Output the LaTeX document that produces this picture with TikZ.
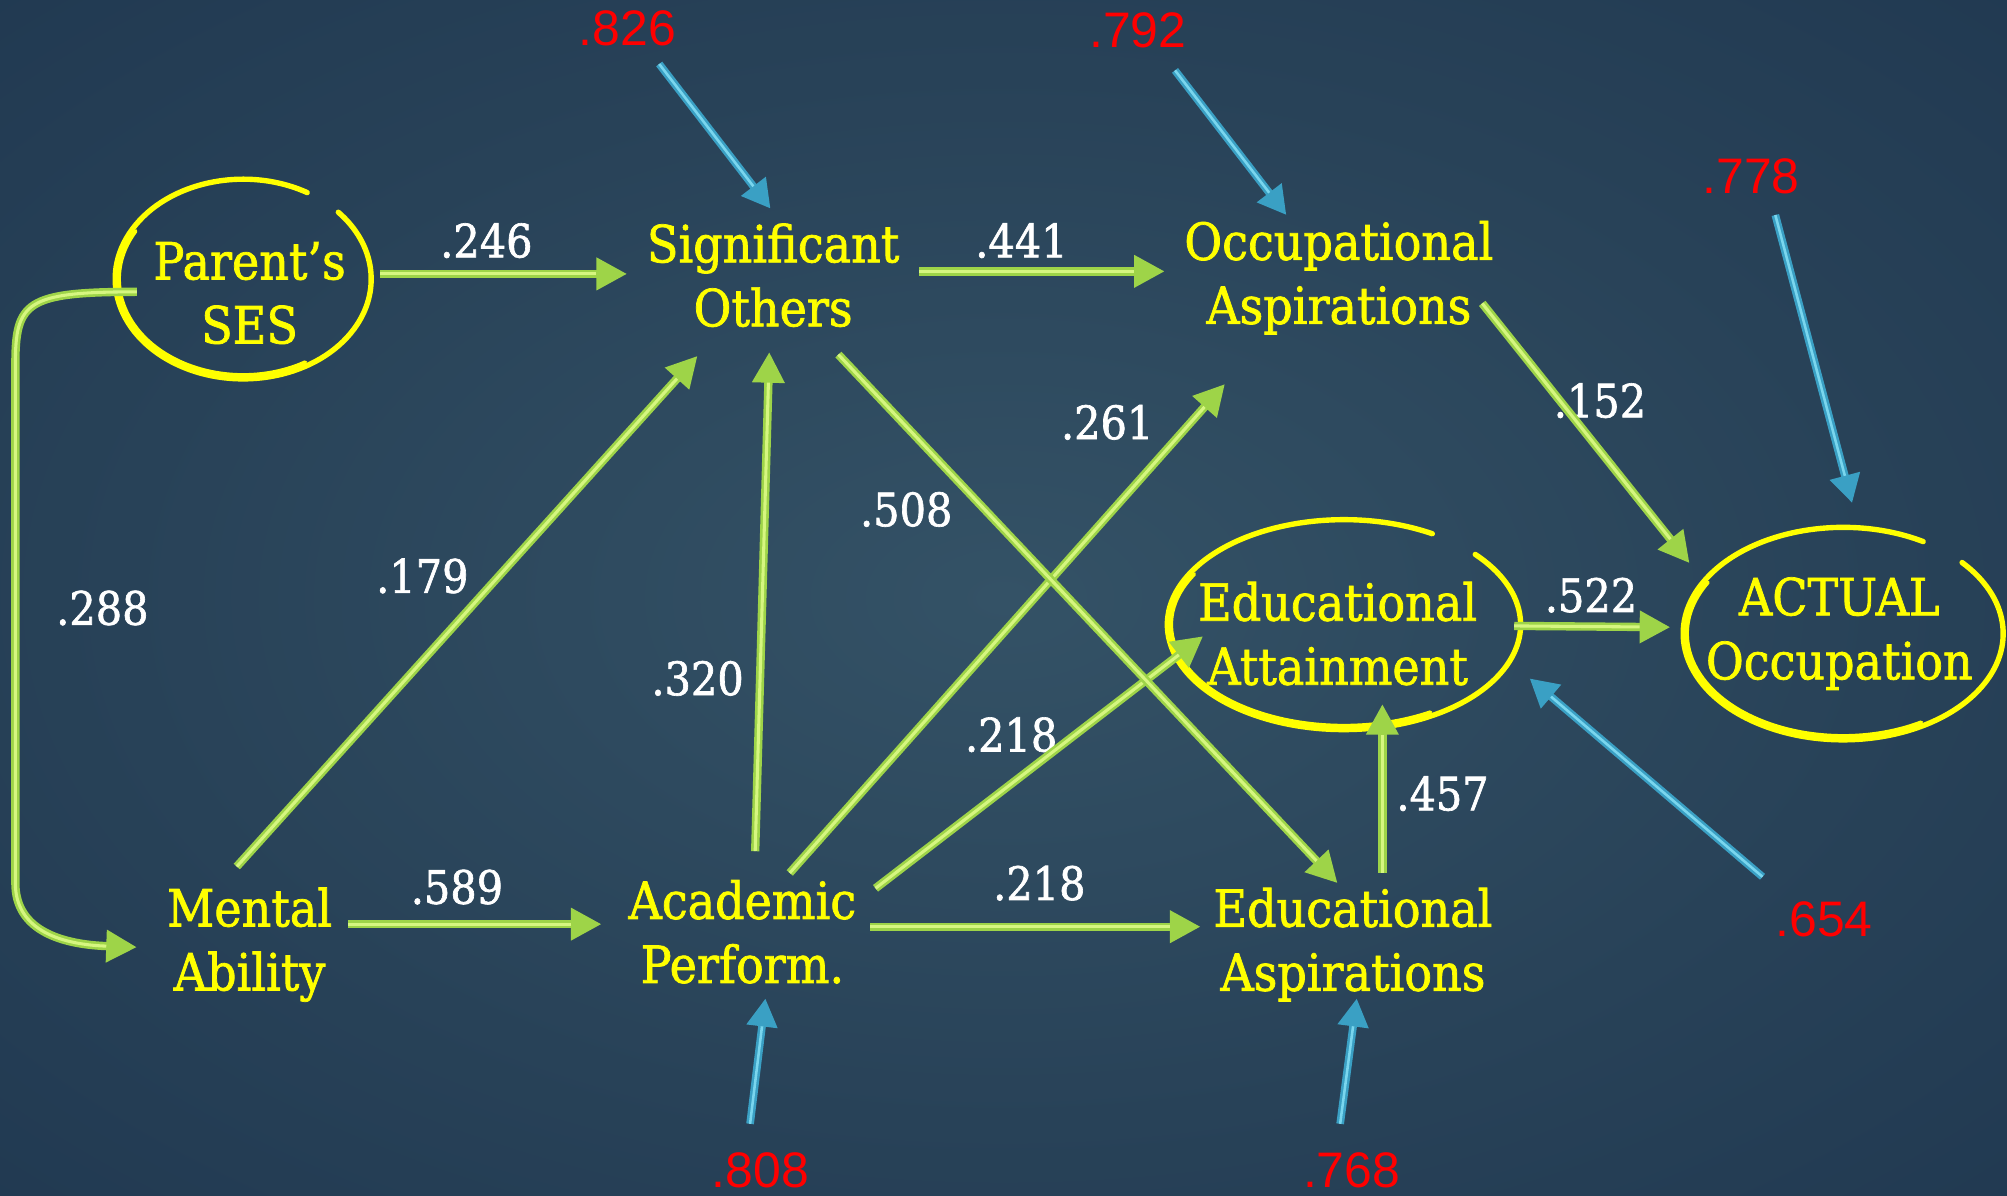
\documentclass[tikz,border=0pt]{standalone}
\usepackage{fontspec}
\usetikzlibrary{arrows.meta}
\newfontfamily\slab[FakeStretch=0.9,FakeBold=1.4]{DejaVu Serif}
\newfontfamily\numsans{Liberation Sans}

\definecolor{bgin}{RGB}{52,82,102}
\definecolor{bgmid}{RGB}{40,66,88}
\definecolor{bgout}{RGB}{27,50,76}
\definecolor{grn}{RGB}{158,212,72}
\definecolor{grnhi}{RGB}{214,246,128}
\definecolor{blu}{RGB}{58,160,196}
\definecolor{bluhi}{RGB}{122,214,238}
\definecolor{ylw}{RGB}{255,255,0}
\definecolor{rd}{RGB}{255,0,0}

\pgfdeclareradialshading{backdrop}{\pgfpoint{0bp}{0bp}}{%
  color(0bp)=(bgin); color(22bp)=(bgmid); color(48bp)=(bgout); color(75bp)=(bgout)}

\tikzset{
  var/.style={font=\slab\fontsize{40}{50}\selectfont, text=ylw, align=center, inner sep=0pt},
  coef/.style={font=\slab\fontsize{36}{40}\selectfont, text=white, inner sep=0pt},
  resid/.style={font=\numsans\fontsize{39}{42}\selectfont, text=rd, inner sep=0pt},
  garrow/.style={draw=grn, line width=6.5pt, -{Triangle[length=24pt,width=24pt]},
    postaction={draw=grnhi, line width=2.4pt, -, shorten >=24pt}},
  barrow/.style={draw=blu, line width=6pt, -{Triangle[length=22pt,width=23pt]},
    postaction={draw=bluhi, line width=2pt, -, shorten >=22pt}},
  ring/.style={draw=ylw, line width=4.2pt, line cap=round},
  ringthick/.style={draw=ylw, line width=3pt, line cap=round},
}

\begin{document}
\begin{tikzpicture}[x=1pt, y=-1pt]
  \useasboundingbox (0,0) rectangle (1568,934);
  \shade[shading=backdrop] (0,0) rectangle (1568,934);

  % variables
  \node[var] (ses)  at (195,229)  {Parent’s\\SES};
  \node[var] (so)   at (604,215)  {Significant\\Others};
  \node[var] (oa)   at (1046,217) {Occupational\\Aspirations};
  \node[var] (ma)   at (195,738)  {Mental\\Ability};
  \node[var] (ap)   at (580,728)  {Academic\\Perform.};
  \node[var] (easp) at (1057,738) {Educational\\Aspirations};
  \node[var] (eatt) at (1045,495) {Educational\\Attainment};
  \node[var] (act)  at (1437,495) {ACTUAL\\Occupation};

  % hand-drawn rings around the key variables (main stroke plus a heavier lower-left pass)
  \draw[ring] ([shift={(-5,-11)}]ses.center) ++(60:100pt and 78pt)
    arc[start angle=60, end angle=402, x radius=100pt, y radius=78pt];
  \draw[ringthick] ([shift={(-5,-11)}]ses.center) ++(150:97pt and 75pt)
    arc[start angle=150, end angle=300, x radius=97pt, y radius=75pt];
  \draw[ring] ([shift={(5,-7)}]eatt.center) ++(60:138pt and 82pt)
    arc[start angle=60, end angle=402, x radius=138pt, y radius=82pt];
  \draw[ringthick] ([shift={(5,-7)}]eatt.center) ++(150:135pt and 79pt)
    arc[start angle=150, end angle=300, x radius=135pt, y radius=79pt];
  \draw[ring] ([shift={(3,0)}]act.center) ++(60:125pt and 83pt)
    arc[start angle=60, end angle=402, x radius=125pt, y radius=83pt];
  \draw[ringthick] ([shift={(3,0)}]act.center) ++(150:122pt and 80pt)
    arc[start angle=150, end angle=300, x radius=122pt, y radius=80pt];

  % residual terms
  \node[resid] (r826) at (490,22)   {.826};
  \node[resid] (r792) at (889,24)   {.792};
  \node[resid] (r778) at (1368,138) {.778};
  \node[resid] (r654) at (1425,718) {.654};
  \node[resid] (r808) at (594,914)  {.808};
  \node[resid] (r768) at (1056,914) {.768};

  % path coefficients
  \node[coef] (c246) at (380,188)  {.246};
  \node[coef] (c441) at (798,188)  {.441};
  \node[coef] (c589) at (357,693)  {.589};
  \node[coef] (c218a) at (812,690) {.218};
  \node[coef] (c179) at (330,450)  {.179};
  \node[coef] (c320) at (545,530)  {.320};
  \node[coef] (c261) at (865,330)  {.261};
  \node[coef] (c218b) at (790,574) {.218};
  \node[coef] (c508) at (708,398)  {.508};
  \node[coef] (c457) at (1127,620) {.457};
  \node[coef] (c152) at (1250,313) {.152};
  \node[coef] (c522) at (1243,465) {.522};
  \node[coef] (c288) at (80,475)   {.288};

  % causal paths
  \draw[garrow] ([shift={(102,-15)}]ses.center) -- ([shift={(-114,-1)}]so.center);
  \draw[garrow] ([shift={(114,-3)}]so.center) -- ([shift={(-136,-5)}]oa.center);
  \draw[garrow] ([shift={(77,-16)}]ma.center) -- ([shift={(-110,-6)}]ap.center);
  \draw[garrow] ([shift={(100,-4)}]ap.center) -- ([shift={(-119,-14)}]easp.center);
  \draw[garrow] ([shift={(-10,-61)}]ma.center) -- ([shift={(-59,63)}]so.center);
  \draw[garrow] ([shift={(10,-63)}]ap.center) -- ([shift={(-3,60)}]so.center);
  \draw[garrow] ([shift={(37,-46)}]ap.center) -- ([shift={(-89,83)}]oa.center);
  \draw[garrow] ([shift={(104,-34)}]ap.center) -- ([shift={(-105,2)}]eatt.center);
  \draw[garrow] ([shift={(51,62)}]so.center) -- ([shift={(-12,-48)}]easp.center);
  \draw[garrow] ([shift={(23,-56)}]easp.center) -- ([shift={(35,55)}]eatt.center);
  \draw[garrow] ([shift={(112,20)}]oa.center) -- ([shift={(-117,-55)}]act.center);
  \draw[garrow] ([shift={(138,-6)}]eatt.center) -- ([shift={(-132,-5)}]act.center);

  % correlation between SES and mental ability
  \draw[garrow] ([shift={(-88,-1)}]ses.center) .. controls (20,228) and (12,236) .. (12,285)
    -- (12,690) .. controls (12,728) and (50,738) .. ([shift={(-88,2)}]ma.center);

  % residual arrows
  \draw[barrow] ([shift={(25,28)}]r826.center) -- ([shift={(-2,-52)}]so.center);
  \draw[barrow] ([shift={(29,31)}]r792.center) -- ([shift={(-41,-49)}]oa.center);
  \draw[barrow] ([shift={(19,30)}]r778.center) -- ([shift={(10,-102)}]act.center);
  \draw[barrow] ([shift={(-48,-33)}]r654.center) -- ([shift={(150,35)}]eatt.center);
  \draw[barrow] ([shift={(-8,-36)}]r808.center) -- ([shift={(18,52)}]ap.center);
  \draw[barrow] ([shift={(-9,-36)}]r768.center) -- ([shift={(3,42)}]easp.center);
\end{tikzpicture}
\end{document}
